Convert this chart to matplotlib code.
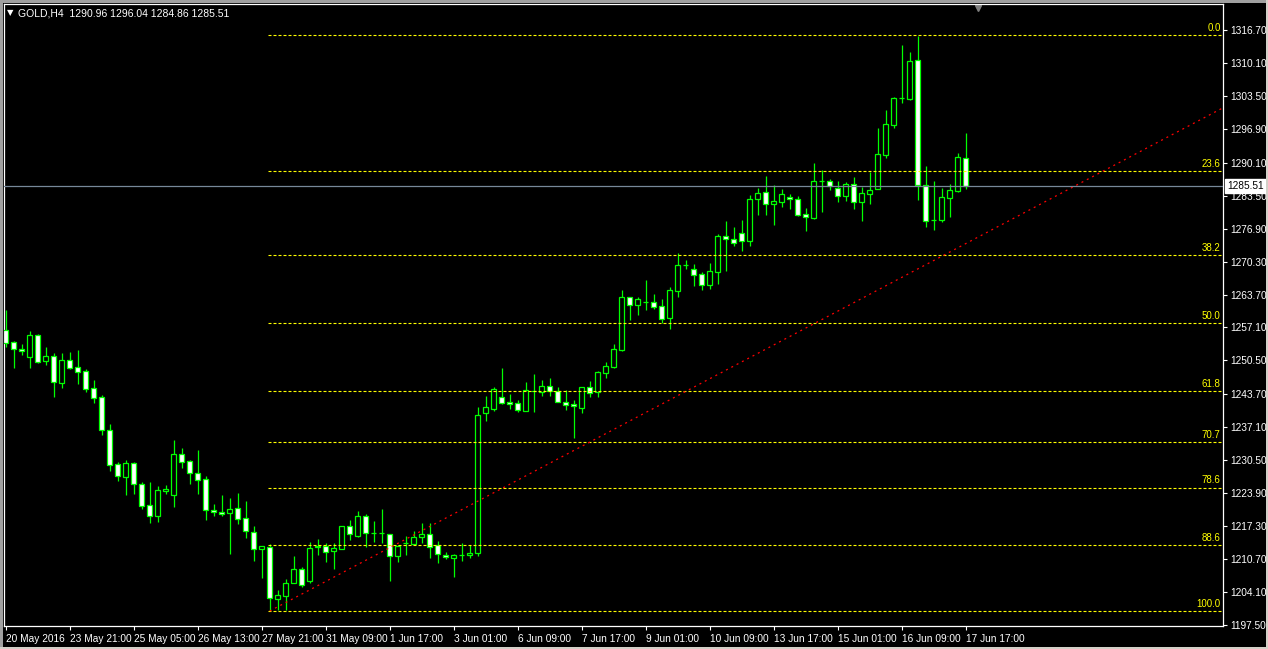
import matplotlib
matplotlib.use("Agg")
import matplotlib.pyplot as plt
from matplotlib.patches import Rectangle
from matplotlib import transforms

plt.rcParams["font.family"] = ["Liberation Sans", "DejaVu Sans"]

# GOLD H4 bars (oldest first)
opens = [1256.61, 1254.14, 1252.81, 1251.27, 1255.61, 1250.47, 1251.40, 1246.06, 1250.60, 1249.13,
         1248.40, 1244.93, 1243.19, 1236.58, 1229.77, 1227.23, 1229.97, 1225.76, 1221.56, 1219.42,
         1224.43, 1223.63, 1231.77, 1230.30, 1227.97, 1226.76, 1220.55, 1220.16, 1219.89, 1220.96,
         1218.89, 1216.15, 1212.68, 1213.14, 1202.79, 1203.39, 1205.86, 1208.67, 1206.26, 1213.07,
         1213.27, 1212.27, 1212.80, 1217.28, 1215.41, 1219.28, 1215.88, 1215.88, 1215.68, 1211.40,
         1213.87, 1213.81, 1215.21, 1215.68, 1213.54, 1211.47, 1211.00, 1211.60, 1211.60, 1211.87,
         1240.05, 1240.85, 1243.12, 1242.12, 1241.92, 1240.45, 1244.33, 1244.13, 1245.33, 1244.33,
         1242.12, 1241.79, 1241.06, 1245.19, 1244.13, 1248.07, 1249.20, 1252.67, 1263.16, 1261.69,
         1262.22, 1262.15, 1261.35, 1259.08, 1264.49, 1269.70, 1268.76, 1267.76, 1265.69, 1268.29,
         1275.44, 1274.77, 1275.97, 1274.50, 1282.78, 1284.18, 1281.78, 1282.31, 1283.18, 1282.78,
         1279.78, 1279.11, 1286.39, 1286.39, 1284.98, 1283.52, 1285.79, 1282.31, 1283.91, 1284.78,
         1291.73, 1297.73, 1303.01, 1302.94, 1310.62, 1285.72, 1278.64, 1278.70, 1283.11, 1284.51,
         1290.96]
highs = [1260.62, 1254.30, 1253.81, 1256.41, 1255.88, 1253.21, 1251.94, 1252.07, 1252.21, 1252.60,
         1248.80, 1246.60, 1243.59, 1237.78, 1230.17, 1230.57, 1230.17, 1226.16, 1226.16, 1225.36,
         1225.56, 1234.58, 1232.97, 1230.57, 1232.57, 1227.37, 1221.76, 1223.56, 1222.96, 1223.96,
         1222.36, 1217.35, 1213.34, 1213.74, 1204.53, 1206.66, 1211.34, 1209.13, 1214.07, 1214.74,
         1213.87, 1213.87, 1217.35, 1218.55, 1220.35, 1219.75, 1218.35, 1220.75, 1215.75, 1213.54,
         1215.34, 1216.34, 1218.01, 1217.95, 1214.34, 1212.14, 1211.74, 1214.01, 1213.47, 1241.18,
         1243.39, 1245.19, 1248.93, 1243.79, 1242.58, 1246.20, 1247.80, 1246.60, 1247.00, 1245.19,
         1244.59, 1242.59, 1245.25, 1246.40, 1248.40, 1250.20, 1253.81, 1264.62, 1263.29, 1263.29,
         1266.63, 1263.82, 1262.82, 1265.23, 1271.97, 1270.63, 1269.83, 1268.16, 1270.03, 1275.84,
         1278.44, 1277.24, 1278.64, 1283.65, 1285.05, 1287.46, 1285.65, 1284.78, 1283.85, 1283.45,
         1281.05, 1290.06, 1288.66, 1286.79, 1286.45, 1286.19, 1287.25, 1285.32, 1288.32, 1297.07,
         1300.67, 1303.34, 1313.69, 1312.29, 1315.56, 1289.45, 1286.45, 1285.05, 1285.78, 1292.06,
         1296.04]
lows = [1253.27, 1249.07, 1251.60, 1249.07, 1250.07, 1249.60, 1243.26, 1245.06, 1248.87, 1245.79,
        1244.26, 1242.06, 1235.65, 1228.44, 1226.43, 1223.56, 1223.76, 1220.82, 1218.02, 1218.22,
        1223.76, 1221.22, 1229.04, 1225.83, 1223.83, 1218.62, 1219.42, 1219.42, 1211.81, 1217.82,
        1215.01, 1210.41, 1207.00, 1200.32, 1200.52, 1200.52, 1205.86, 1205.19, 1205.99, 1211.60,
        1210.13, 1208.80, 1212.67, 1214.54, 1215.21, 1213.21, 1214.07, 1213.87, 1206.39, 1210.13,
        1211.60, 1213.67, 1214.01, 1211.00, 1210.00, 1210.67, 1207.13, 1210.40, 1211.00, 1211.40,
        1238.45, 1240.38, 1241.78, 1240.78, 1240.25, 1240.40, 1240.19, 1243.39, 1243.39, 1242.20,
        1240.66, 1234.98, 1239.99, 1243.26, 1243.26, 1247.06, 1249.00, 1252.47, 1258.62, 1259.62,
        1260.62, 1260.82, 1257.95, 1256.88, 1263.29, 1268.90, 1265.43, 1264.62, 1264.89, 1265.82,
        1268.49, 1273.50, 1272.50, 1273.50, 1279.71, 1279.71, 1277.71, 1281.31, 1280.85, 1279.51,
        1276.50, 1278.91, 1280.31, 1284.65, 1282.31, 1282.51, 1280.85, 1278.50, 1281.78, 1284.78,
        1291.12, 1297.13, 1302.14, 1302.68, 1282.64, 1277.30, 1276.64, 1278.30, 1279.31, 1284.31,
        1284.86]
closes = [1254.07, 1252.74, 1252.47, 1255.61, 1250.27, 1251.40, 1246.26, 1250.60, 1249.07, 1248.26,
          1244.86, 1243.06, 1236.65, 1229.64, 1227.43, 1229.97, 1225.70, 1221.42, 1219.42, 1224.56,
          1224.76, 1231.77, 1230.24, 1227.90, 1226.63, 1220.62, 1220.09, 1219.82, 1220.75, 1218.82,
          1216.28, 1212.68, 1213.28, 1202.86, 1203.46, 1205.86, 1208.67, 1205.46, 1212.87, 1213.34,
          1212.07, 1212.87, 1217.28, 1215.68, 1219.35, 1215.88, 1215.88, 1215.88, 1211.27, 1213.34,
          1213.87, 1215.08, 1215.68, 1213.21, 1211.67, 1211.07, 1211.47, 1211.60, 1211.94, 1239.51,
          1241.12, 1244.72, 1242.05, 1241.72, 1240.51, 1244.53, 1244.33, 1245.33, 1244.33, 1242.26,
          1241.66, 1241.32, 1245.19, 1243.93, 1248.13, 1249.33, 1252.74, 1263.16, 1261.69, 1262.82,
          1262.22, 1261.29, 1258.88, 1264.56, 1269.57, 1269.70, 1267.70, 1265.69, 1268.36, 1275.44,
          1274.77, 1273.97, 1274.50, 1282.78, 1283.98, 1281.78, 1282.38, 1283.78, 1282.78, 1279.71,
          1279.17, 1286.39, 1286.39, 1285.52, 1283.52, 1285.79, 1282.31, 1283.98, 1284.58, 1291.79,
          1297.80, 1303.08, 1303.01, 1310.42, 1285.58, 1278.37, 1278.64, 1283.18, 1284.58, 1291.19,
          1285.51]

date_labels = ["20 May 2016", "23 May 21:00", "25 May 05:00", "26 May 13:00", "27 May 21:00",
               "31 May 09:00", "1 Jun 17:00", "3 Jun 01:00", "6 Jun 09:00", "7 Jun 17:00",
               "9 Jun 01:00", "10 Jun 09:00", "13 Jun 17:00", "15 Jun 01:00", "16 Jun 09:00",
               "17 Jun 17:00"]
label_step = 8

price_ticks = [1316.70, 1310.10, 1303.50, 1296.90, 1290.10, 1283.50, 1276.90, 1270.30, 1263.70,
               1257.10, 1250.50, 1243.70, 1237.10, 1230.50, 1223.90, 1217.30, 1210.70, 1204.10,
               1197.50]

fib_levels = [0.0, 23.6, 38.2, 50.0, 61.8, 70.7, 78.6, 88.6, 100.0]
fib_low_bar, fib_low = 33, 1200.3
fib_high = 1315.7

trend_bars = [33, 120]
trend_prices = [1200.3, 1273.9]

bid = 1285.51
header = "GOLD,H4  1290.96 1296.04 1284.86 1285.51"

W, H = 1268, 649
green = "#00ff00"
yellow = "#ffff00"

fig = plt.figure(figsize=(W / 100, H / 100), dpi=100, facecolor="black")
ax = fig.add_axes([4 / W, (H - 626) / H, (1223 - 4) / W, (626 - 4) / H])
ax.set_facecolor("black")
xmin, xmax = -0.21, 152.16
ax.set_xlim(xmin, xmax)
ax.set_ylim(1197.3, 1321.9)

# candles
for i, (o, h, l, c) in enumerate(zip(opens, highs, lows, closes)):
    ax.vlines(i, l, h, color=green, lw=0.9, zorder=2)
    lo, hi = min(o, c), max(o, c)
    fill = "black" if c > o else "white"
    ax.add_patch(Rectangle((i - 0.31, lo), 0.62, hi - lo, facecolor=fill,
                           edgecolor=green, lw=0.9, zorder=3))

# fibonacci retracement
for lvl in fib_levels:
    p = fib_high - (fib_high - fib_low) * lvl / 100
    ax.plot([fib_low_bar - 0.2, xmax], [p, p], color=yellow, lw=0.8,
            ls=(0, (2.7, 1.8)), zorder=4)
    ax.text(xmax - 0.3, p + 0.45, f"{lvl:.1f}", color=yellow, fontsize=7,
            ha="right", va="bottom", zorder=5)

# trend line, extended to the right edge
slope = (trend_prices[1] - trend_prices[0]) / (trend_bars[1] - trend_bars[0])
ax.plot([trend_bars[0], xmax],
        [trend_prices[0], trend_prices[0] + slope * (xmax - trend_bars[0])],
        color="#ff0000", lw=0.9, ls=(0, (1.6, 3.2)), zorder=4)

# bid line + price label
ax.axhline(bid, color="#778899", lw=0.9, zorder=4)
blend = transforms.blended_transform_factory(ax.transAxes, ax.transData)
ax.text(1.0035, bid, f"{bid:.2f}", transform=blend, color="black", fontsize=7.3,
        ha="left", va="center", clip_on=False, zorder=6,
        bbox=dict(boxstyle="square,pad=0.2", fc="white", ec="white"))

# chart shift marker
ax.plot([121.5], [0.993], marker="v", ms=5, color="#808080", clip_on=False,
        transform=transforms.blended_transform_factory(ax.transData, ax.transAxes))

# axes
ax.yaxis.tick_right()
ax.set_yticks(price_ticks)
ax.set_yticklabels([f"{p:.2f}" for p in price_ticks])
ax.set_xticks(range(0, label_step * len(date_labels), label_step))
ax.set_xticklabels(date_labels)
for lbl in ax.get_xticklabels():
    lbl.set_ha("left")
    lbl.set_x(lbl.get_position()[0])
ax.tick_params(axis="y", colors="white", labelcolor="white", labelsize=7.3, length=3,
               width=0.8, pad=2)
ax.tick_params(axis="x", colors="white", labelcolor="white", labelsize=7.3, length=3,
               width=0.8, pad=2.5)
for s in ax.spines.values():
    s.set_color("white")
    s.set_linewidth(0.9)

# header: small triangle + symbol and OHLC
fig.text(7 / W, 1 - 13 / H, "\u25bc", color="white", fontsize=6, ha="left", va="center",
         family="DejaVu Sans")
fig.text(18 / W, 1 - 13 / H, header, color="white", fontsize=7.5, ha="left", va="center")

# window border
for (x0, y0, w, h, col) in [(0, H - 3, W, 3, "#a0a0a0"), (0, 0, 3, H, "#a0a0a0"),
                             (W - 2, 0, 2, H, "#d4d0c8"), (0, 0, W, 2, "#d4d0c8")]:
    fig.patches.append(Rectangle((x0 / W, y0 / H), w / W, h / H, transform=fig.transFigure,
                                 facecolor=col, edgecolor="none", zorder=10))

fig.savefig("out.png", dpi=100, facecolor="black")
